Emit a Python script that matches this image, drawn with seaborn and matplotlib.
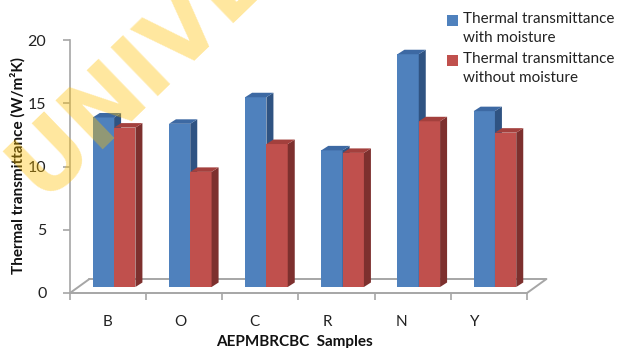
import matplotlib
matplotlib.use("Agg")
import matplotlib.pyplot as plt
import seaborn as sns
import pandas as pd
import numpy as np
from matplotlib.patches import Polygon, Rectangle
from matplotlib.transforms import ScaledTranslation
from matplotlib.lines import Line2D

# ---- data -------------------------------------------------------------
samples = ["B", "O", "C", "R", "N", "Y"]
with_moisture = [13.4, 12.9, 15.0, 10.8, 18.4, 13.9]
without_moisture = [12.6, 9.1, 11.3, 10.6, 13.1, 12.2]
series_names = ["Thermal transmittance\nwith moisture",
                "Thermal transmittance\nwithout moisture"]
y_ticks = [0, 5, 10, 15, 20]

# ---- style ------------------------------------------------------------
front = ["#4F81BD", "#C0504D"]
top = ["#3D69A3", "#A3403D"]
side = ["#2F5382", "#7D302E"]
grey = "#A6A6A6"

sns.set_theme(style="white")
plt.rcParams["font.family"] = ["Lato", "DejaVu Sans"]

df = pd.DataFrame({
    "Sample": samples * 2,
    "Value": with_moisture + without_moisture,
    "Series": [series_names[0]] * len(samples) + [series_names[1]] * len(samples),
})

W, H = 619, 348
fig = plt.figure(figsize=(W / 100, H / 100), dpi=100)
ax = fig.add_axes([70 / W, 55 / H, 457 / W, 253 / H])

sns.barplot(data=df, x="Sample", y="Value", hue="Series", hue_order=series_names,
            palette=front, width=0.56, saturation=1, errorbar=None,
            legend=False, ax=ax, linewidth=0)
ax.set_xlim(-0.5, len(samples) - 0.5)
ax.set_ylim(0, 20)

# pseudo-3D: columns stand in the middle of the floor, with a side and a top face
shift = ax.transData + ScaledTranslation(6 / 100, 6 / 100, fig.dpi_scale_trans)
ddx, ddy = 0.092, 0.356
n = len(samples)
for i, p in enumerate(ax.patches[: 2 * n]):
    s = i // n
    x, w, h = p.get_x(), p.get_width(), p.get_height()
    p.set_transform(shift)
    p.set_clip_on(False)
    p.set_zorder(2 + s)
    side_face = Polygon([(x + w, 0), (x + w, h), (x + w + ddx, h + ddy), (x + w + ddx, ddy)],
                        closed=True, facecolor=side[s], edgecolor="none",
                        transform=shift, clip_on=False, zorder=2.1 + s)
    top_face = Polygon([(x, h), (x + w, h), (x + w + ddx, h + ddy), (x + ddx, h + ddy)],
                       closed=True, facecolor=top[s], edgecolor="none",
                       transform=shift, clip_on=False, zorder=2.1 + s)
    ax.add_patch(side_face)
    ax.add_patch(top_face)

# floor outline
fx, fy = 0.255, 1.107
x0, x1 = -0.5, n - 0.5
for xs, ys in [([x0, x1], [0, 0]),
               ([x0 + fx, x1 + fx], [fy, fy]),
               ([x0, x0 + fx], [0, fy]),
               ([x1, x1 + fx], [0, fy])]:
    ax.add_line(Line2D(xs, ys, color=grey, lw=1.4, clip_on=False, zorder=1))

# axes styling
for k in ["top", "right", "bottom"]:
    ax.spines[k].set_visible(False)
ax.spines["left"].set_color(grey)
ax.spines["left"].set_linewidth(1.2)
ax.set_xticks(np.arange(-0.5, n, 1.0))
ax.set_xticklabels([])
ax.tick_params(axis="x", direction="out", length=5, width=1.2, color=grey, bottom=True)

# category names sit slightly left of the column pairs
lab = ax.twiny()
lab.set_xlim(-37 / 73.6, 420 / 73.6)
lab.xaxis.set_ticks_position("bottom")
lab.set_xticks(range(n))
lab.set_xticklabels(samples, fontsize=11, color="#222222")
lab.tick_params(axis="x", length=0, pad=16)
for k in lab.spines:
    lab.spines[k].set_visible(False)

ax.set_yticks(y_ticks)
ax.set_yticklabels([str(v) for v in y_ticks], fontsize=11.5, color="#222222")
ax.tick_params(axis="y", direction="out", length=5, width=1.2, color=grey, pad=12, left=True)

ax.set_xlabel("AEPMBRCBC  Samples", fontsize=11, fontweight="bold", color="#111111")
ax.xaxis.set_label_coords((294 - 70) / 457, (293 - 342) / 253)
ax.xaxis.label.set_va("center")
ax.set_ylabel("Thermal transmittance (W/m\u00b2K)", fontsize=11, fontweight="bold", color="#111111")
ax.yaxis.set_label_coords((18 - 70) / 457, (293 - 165) / 253)
ax.yaxis.label.set_va("center")

# legend: colour square beside the first line of each entry
for s, (name, yl) in enumerate(zip(series_names, [20, 60])):
    fig.add_artist(Rectangle(((447) / W, 1 - (yl + 6) / H), 11 / W, 11 / H,
                             transform=fig.transFigure, facecolor=front[s], edgecolor="none"))
    fig.text(463 / W, 1 - (yl - 8) / H, name, fontsize=11, color="#222222",
             va="top", ha="left", linespacing=1.5)

# watermark
fig.text(42 / W, 1 - 200 / H, "UNIVERSITY", rotation=44, rotation_mode="anchor",
         ha="left", va="baseline", fontsize=66, fontweight="bold",
         family="DejaVu Sans", color="#FFC000", alpha=0.38, zorder=10)

fig.savefig("out.png", dpi=100)
